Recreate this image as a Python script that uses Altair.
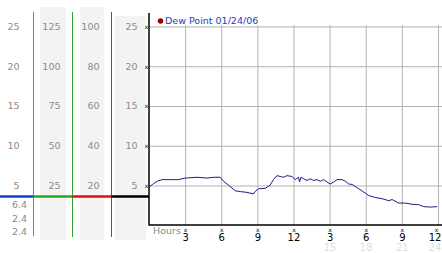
import altair as alt
import pandas as pd

# ---- data ----
hours = [0.0, 0.33, 0.66, 1.05, 1.74, 2.40, 2.98, 3.95, 4.78, 5.38, 5.88, 6.15, 6.56,
         7.12, 7.53, 8.09, 8.63, 8.77, 9.05, 9.60, 10.02, 10.29, 10.58, 10.86, 11.13,
         11.41, 11.83, 12.10, 12.38, 12.46, 12.58, 12.80, 13.08, 13.35, 13.63, 13.91,
         14.19, 14.46, 14.74, 15.02, 15.30, 15.57, 15.99, 16.27, 16.55, 16.83, 17.38,
         17.93, 18.21, 18.76, 19.32, 19.87, 20.15, 20.70, 21.26, 21.81, 22.36, 22.78, 23.33, 23.89]
dew = [4.9, 5.3, 5.6, 5.8, 5.8, 5.8, 6.0, 6.1, 6.0, 6.1, 6.1, 5.6, 5.1,
       4.4, 4.3, 4.2, 4.0, 4.3, 4.65, 4.7, 5.1, 5.8, 6.3, 6.2, 6.1,
       6.3, 6.2, 5.8, 6.1, 5.5, 6.1, 5.9, 5.7, 5.9, 5.7, 5.8,
       5.6, 5.8, 5.5, 5.25, 5.5, 5.8, 5.8, 5.6, 5.25, 5.2, 4.65,
       4.1, 3.8, 3.55, 3.4, 3.15, 3.3, 2.85, 2.85, 2.7, 2.65, 2.4, 2.35, 2.4]

grid_values = [25, 20, 15, 10, 5]
col1_labels = ["25", "20", "15", "10", "5"]
col2_labels = ["125", "100", "75", "50", "25"]
col3_labels = ["100", "80", "60", "40", "20"]
col4_labels = ["25", "20", "15", "10", "5"]
summary_labels = ["6.4", "2.4", "2.4"]
hour_ticks = [3, 6, 9, 12, 15, 18, 21, 24]
hour_labels = ["3", "6", "9", "12", "3", "6", "9", "12"]
faint_ticks = [15, 18, 21, 24]
faint_labels = ["15", "18", "21", "24"]
legend_text = "Dew Point 01/24/06"
axis_title = "Hours"

W, H = 442, 253
FONT = "DejaVu Sans"
GRAY = "#8c8c8c"
GRID = "#b4b4b4"

X = alt.Scale(domain=[-12.417, 24.294], nice=False, zero=False)
Y = alt.Scale(domain=[-3.428, 28.396], nice=False, zero=False)

one = pd.DataFrame({"k": [0]})
series = pd.DataFrame({"h": hours, "v": dew})
grid_df = pd.DataFrame({"v": grid_values})
hour_df = pd.DataFrame({"h": hour_ticks, "t": hour_labels})
faint_df = pd.DataFrame({"h": faint_ticks, "t": faint_labels})
summary_df = pd.DataFrame({"t": summary_labels, "r": [0, 1, 2]})


def band(x1, x2, y1, y2):
    return alt.Chart(one).mark_rect(color="#f3f3f3").encode(
        x=alt.value(x1), x2=alt.value(x2), y=alt.value(y1), y2=alt.value(y2))


def vrule(x, y1, y2, color, w=1):
    return alt.Chart(one).mark_rule(color=color, strokeWidth=w).encode(
        x=alt.value(x), y=alt.value(y1), y2=alt.value(y2))


def hrule(x1, x2, y, color, w=1):
    return alt.Chart(one).mark_rule(color=color, strokeWidth=w).encode(
        x=alt.value(x1), x2=alt.value(x2), y=alt.value(y))


def col_text(labels, xr):
    df = pd.DataFrame({"v": grid_values, "t": labels})
    return alt.Chart(df).mark_text(align="right", baseline="middle", font=FONT,
                                   fontSize=9.5, color=GRAY).encode(
        x=alt.value(xr), y=alt.Y("v:Q", scale=Y, axis=None), text="t:N")


def hour_text(df, y, color, size):
    base = alt.Chart(df)
    inner = base.transform_filter("datum.h < 24").mark_text(
        font=FONT, fontSize=size, color=color, baseline="middle").encode(
        x=alt.X("h:Q", scale=X, axis=None), y=alt.value(y), text="t:N")
    last = base.transform_filter("datum.h >= 24").mark_text(
        font=FONT, fontSize=size, color=color, baseline="middle", align="right", dx=3).encode(
        x=alt.X("h:Q", scale=X, axis=None), y=alt.value(y), text="t:N")
    return [inner, last]


layers = [
    band(40, 66, 7, 240),
    band(80, 104, 7, 240),
    band(115, 146, 16, 240),
    # vertical gridlines
    alt.Chart(hour_df).mark_rule(color=GRID, strokeWidth=1).encode(
        x=alt.X("h:Q", scale=X, axis=None), y=alt.value(25), y2=alt.value(225)),
    # horizontal gridlines
    alt.Chart(grid_df).mark_rule(color=GRID, strokeWidth=1).encode(
        y=alt.Y("v:Q", scale=Y, axis=None), x=alt.value(149), x2=alt.value(442)),
    # coloured gauge lines
    vrule(33.5, 12, 236, "#2f96d6"),
    vrule(72.5, 12, 237, "#35a035"),
    vrule(111.5, 12, 237, "#b83030"),
    hrule(0, 33.5, 196.5, "#1040d0", 2.5),
    hrule(33.5, 72.5, 196.5, "#22aa22", 2.5),
    hrule(72.5, 111.5, 196.5, "#dd1111", 2.5),
    hrule(111.5, 149, 196.5, "#000000", 2.5),
    # axis lines
    vrule(149, 13, 225.5, "#000000", 1.5),
    hrule(149, 442, 225, "#000000", 1.5),
    # column labels
    col_text(col1_labels, 19.5),
    col_text(col2_labels, 60.5),
    col_text(col3_labels, 99.5),
    col_text(col4_labels, 137.5),
    # y tick glyphs
    alt.Chart(grid_df).mark_text(font=FONT, fontSize=6, color="#000000",
                                 baseline="middle", text="x").encode(
        x=alt.value(146.5), y=alt.Y("v:Q", scale=Y, axis=None)),
    # summary labels (high / low / current)
    alt.Chart(summary_df).mark_text(
        align="right", baseline="middle", font=FONT, fontSize=9.5, color=GRAY).encode(
        x=alt.value(27),
        y=alt.Y("r:Q", scale=alt.Scale(domain=[0, 2], range=[205, 232], nice=False, zero=False),
                axis=None),
        text="t:N"),
    # data line
    alt.Chart(series).mark_line(color="#1c1c8c", strokeWidth=1).encode(
        x=alt.X("h:Q", scale=X, axis=None), y=alt.Y("v:Q", scale=Y, axis=None)),
    # x tick glyphs
    alt.Chart(hour_df).transform_filter("datum.h < 24").mark_text(
        font=FONT, fontSize=6, color="#000000", baseline="middle", text="x").encode(
        x=alt.X("h:Q", scale=X, axis=None), y=alt.value(229.5)),
    alt.Chart(hour_df).transform_filter("datum.h >= 24").mark_text(
        font=FONT, fontSize=6, color="#000000", baseline="middle", text="x", dx=-2).encode(
        x=alt.X("h:Q", scale=X, axis=None), y=alt.value(229.5)),
    *hour_text(hour_df, 238, "#000000", 10),
    *hour_text(faint_df, 247.5, "#dedede", 10),
    alt.Chart(one).mark_text(font=FONT, fontSize=9.5, color=GRAY, align="left",
                             baseline="middle", text=axis_title).encode(
        x=alt.value(153), y=alt.value(231)),
    # legend
    alt.Chart(one).mark_point(shape="circle", filled=True, size=30, color="#a00000",
                              opacity=1).encode(x=alt.value(160.5), y=alt.value(21)),
    alt.Chart(one).mark_text(font=FONT, fontSize=9.5, color="#1a3cc0", align="left",
                             baseline="middle", text=legend_text).encode(
        x=alt.value(165), y=alt.value(21)),
]

chart = alt.layer(*layers).properties(
    width=W, height=H, autosize=alt.AutoSizeParams(type="none"), padding=0
).configure_view(strokeWidth=0).resolve_scale(y="independent")

chart.save("out.html", embed_options={"renderer": "svg", "actions": False})
